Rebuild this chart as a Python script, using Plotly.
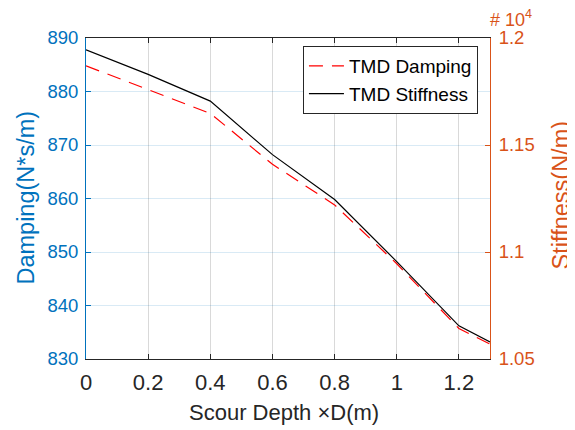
import plotly.graph_objects as go

scour_depth = [0, 0.2, 0.4, 0.6, 0.8, 1.0, 1.2, 1.3]
damping = [884.8, 880.4, 875.9, 866.4, 858.8, 847.8, 835.7, 832.8]
stiffness = [11945, 11830, 11705, 11455, 11245, 10955, 10655, 10580]

x_ticks = [0, 0.2, 0.4, 0.6, 0.8, 1.0, 1.2]
x_ticktext = ["0", "0.2", "0.4", "0.6", "0.8", "1", "1.2"]
y1_ticks = [830, 840, 850, 860, 870, 880, 890]
y2_ticks = [10500, 11000, 11500, 12000]
y2_ticktext = ["1.05", "1.1", "1.15", "1.2"]

BLUE = "#0072BD"
ORANGE = "#D95319"
DARK = "#262626"
FONT = "Liberation Sans, Arial, sans-serif"

fig = go.Figure()
fig.add_trace(go.Scatter(
    x=scour_depth, y=damping, name="TMD Damping", mode="lines",
    line=dict(color="#FF0000", width=1.2, dash="14px,9px"), yaxis="y"))
fig.add_trace(go.Scatter(
    x=scour_depth, y=stiffness, name="TMD Stiffness", mode="lines",
    line=dict(color="#000000", width=1.2), yaxis="y2"))

fig.update_layout(
    width=567, height=422,
    margin=dict(l=78, r=85, t=30, b=71),
    paper_bgcolor="white", plot_bgcolor="white",
    font=dict(family=FONT, size=18, color=DARK),
    showlegend=True,
    legend=dict(x=0.537, y=0.975, xanchor="left", yanchor="top",
                bgcolor="white", bordercolor="#262626", borderwidth=1,
                font=dict(size=19, color="#000000"),
                tracegroupgap=0, itemwidth=35),
    xaxis=dict(range=[0, 1.3], tickvals=x_ticks, ticktext=x_ticktext,
               showgrid=True, gridcolor="rgba(0,0,0,0.15)", gridwidth=1,
               zeroline=False, showline=True, linecolor=DARK, linewidth=1,
               mirror="ticks", ticks="inside", ticklen=5, tickcolor=DARK,
               ticklabelstandoff=4,
               tickfont=dict(size=22, color=DARK)),
    yaxis=dict(range=[830, 890], tickvals=y1_ticks,
               showgrid=True, gridcolor="rgba(0,114,189,0.15)", gridwidth=1,
               zeroline=False, showline=True, linecolor=BLUE, linewidth=1,
               ticks="inside", ticklen=5, tickcolor=BLUE, ticklabelstandoff=3,
               tickfont=dict(size=18.5, color=BLUE)),
    yaxis2=dict(range=[10500, 12000], tickvals=y2_ticks, ticktext=y2_ticktext,
                overlaying="y", side="right", showgrid=False, zeroline=False,
                showline=True, linecolor=ORANGE, linewidth=1,
                ticks="inside", ticklen=5, tickcolor=ORANGE, ticklabelstandoff=4,
                tickfont=dict(size=18.5, color=ORANGE)),
    annotations=[
        dict(text="Scour Depth ×D(m)", xref="paper", yref="paper",
             x=0.49, y=0, xanchor="center", yanchor="middle", yshift=-53,
             showarrow=False, font=dict(size=22, color=DARK)),
        dict(text="Damping(N*s/m)", textangle=-90, xref="paper", yref="paper",
             x=-0.1485, y=0.503, xanchor="center", yanchor="middle",
             showarrow=False, font=dict(size=23.5, color=BLUE)),
        dict(text="Stiffness(N/m)", textangle=-90, xref="paper", yref="paper",
             x=1.176, y=0.51, xanchor="center", yanchor="middle",
             showarrow=False, font=dict(size=23.5, color=ORANGE)),
        dict(text="# 10<sup>4</sup>", xref="paper", yref="paper",
             x=1.0, y=1.0, xanchor="left", yanchor="bottom", yshift=6, xshift=-2,
             showarrow=False, font=dict(size=18, color=ORANGE)),
    ],
)

fig.write_html("out.html")
